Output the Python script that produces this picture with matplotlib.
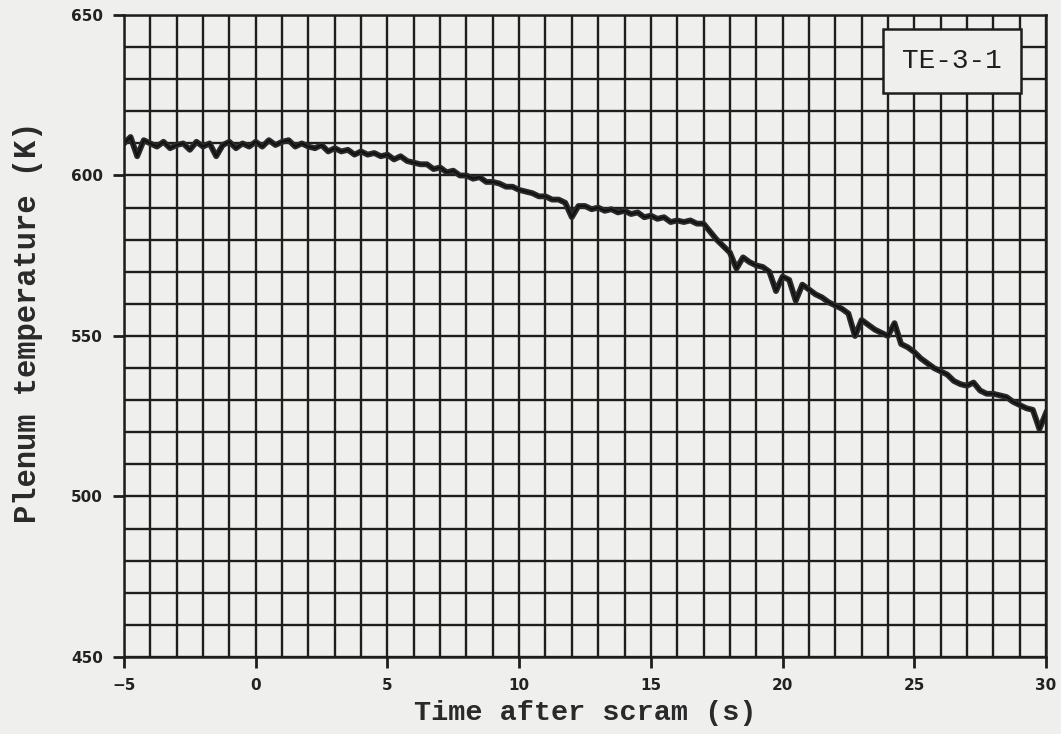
import numpy as np
import matplotlib
matplotlib.use("Agg")
import matplotlib.pyplot as plt
from matplotlib.ticker import MultipleLocator

# ---- data ----
t_start = -5.0
t_step = 0.25
temperature = [
    610, 612, 606, 611, 610, 609, 610.5, 608.5, 609.5, 610,      # -5.00 .. -2.75
    608, 610.5, 609, 610, 606, 609.5, 610.5, 608.5, 610, 609,    # -2.50 .. -0.25
    610.5, 609, 611, 609.5, 610.5, 611, 609, 610, 609, 608.5,    # 0.00 .. 2.25
    609.5, 607.5, 608.5, 607.5, 608, 606.5, 607.5, 606.5, 607, 606,  # 2.50 .. 4.75
    606.5, 605, 606, 604.5, 604, 603.5, 603.5, 602, 602.5, 601,  # 5.00 .. 7.25
    601.5, 600, 600, 599, 599.5, 598, 598, 597.5, 596.5, 596.5,  # 7.50 .. 9.75
    595.5, 595, 594.5, 593.5, 593.5, 592.5, 592.5, 591.5, 587, 590.5,  # 10.00 .. 12.25
    590.5, 589.5, 590, 589, 589.5, 588.5, 589, 588, 588.5, 587,  # 12.50 .. 14.75
    587.5, 586.5, 587, 585.5, 586, 585.5, 586, 585, 585, 582.5,  # 15.00 .. 17.25
    580, 578, 576, 571, 574.5, 573, 572, 571.5, 570, 564,        # 17.50 .. 19.75
    568.5, 567.5, 561, 566, 564.5, 563, 562, 560.5, 559.5, 558.5,  # 20.00 .. 22.25
    557, 550, 555, 553.5, 552, 551, 550, 554, 547.5, 546.5,      # 22.50 .. 24.75
    545, 543, 541.5, 540, 539, 538, 536, 535, 534.5, 535.5,      # 25.00 .. 27.25
    533, 532, 532, 531.5, 531, 529.5, 528.5, 527.5, 527, 521,    # 27.50 .. 29.75
    526,                                                          # 30.00
]
time = t_start + t_step * np.arange(len(temperature))

x_ticks = [-5, 0, 5, 10, 15, 20, 25, 30]
y_ticks = [450, 500, 550, 600, 650]
x_label = "Time after scram (s)"
y_label = "Plenum temperature (K)"
legend_text = "TE-3-1"

# ---- figure ----
bg = "#efefed"
fig = plt.figure(figsize=(10.61, 7.34), dpi=100, facecolor=bg)
ax = fig.add_axes([124/1061, 1-657/734, 922/1061, 642/734])
ax.set_facecolor(bg)

ax.set_xlim(-5, 30)
ax.set_ylim(450, 650)
ax.xaxis.set_minor_locator(MultipleLocator(1))
ax.yaxis.set_minor_locator(MultipleLocator(10))
ax.set_xticks(x_ticks)
ax.set_yticks(y_ticks)

gc = "#1e1e1e"
ax.grid(True, which="both", color=gc, linewidth=1.7)
ax.set_axisbelow(True)
for s in ax.spines.values():
    s.set_color(gc)
    s.set_linewidth(1.8)

ax.tick_params(which="major", direction="out", length=8, width=2, color=gc,
               labelsize=11, pad=7)
ax.tick_params(which="minor", length=0)
for lab in ax.get_xticklabels() + ax.get_yticklabels():
    lab.set_fontweight("bold")
    lab.set_family("DejaVu Sans")
    lab.set_color("#222222")

ax.plot(time, temperature, color="#2a2a2a", linewidth=4.2, solid_joinstyle="round")
ax.plot(time, temperature, color="#111111", linewidth=1.4)

lab_font = dict(family="Liberation Mono", fontweight="bold", color="#2a2a2a")
ax.set_xlabel(x_label, fontsize=20.5, labelpad=5, **lab_font)
ax.set_ylabel(y_label, fontsize=22, **lab_font)
ax.yaxis.set_label_coords(-0.088, 0.522)

ax.text(0.898, 0.928, legend_text, transform=ax.transAxes, ha="center", va="center",
        fontsize=20, family="Liberation Mono", color="#1e1e1e",
        bbox=dict(boxstyle="square,pad=0.68", facecolor=bg, edgecolor=gc, linewidth=1.8),
        zorder=5)

fig.savefig("out.png", dpi=100, facecolor=bg)
